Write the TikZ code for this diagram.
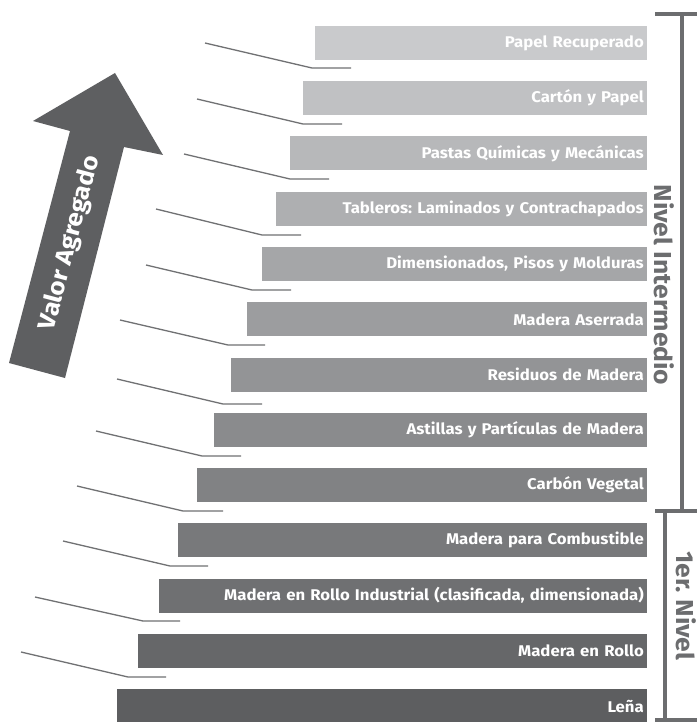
\documentclass[tikz,border=0pt]{standalone}
\usepackage{fontspec}
\setmainfont{Fira Sans}[FakeStretch=1.08]
\frenchspacing
\begin{document}
\begin{tikzpicture}[x=1pt,y=-1pt,
  bar/.style={draw=none, rectangle, minimum height=34pt, inner xsep=3pt, inner ysep=0pt,
    anchor=east, align=right, text=white, font=\bfseries\fontsize{15.5}{16}\selectfont},
  lead/.style={draw=lineg, line width=1.3pt},
  brk/.style={draw=brkg, line width=4pt},
  nivel/.style={text=brkg, font=\bfseries\fontsize{24.5}{26}\selectfont, inner sep=0pt}]
\definecolor{lineg}{RGB}{112,113,115}
\definecolor{brkg}{RGB}{108,109,111}
\definecolor{arrg}{RGB}{94,95,97}
\useasboundingbox (0,0) rectangle (697,722);
\fill[white] (0,0) rectangle (697,722);
% bars
\foreach \i/\l/\t in {0/315/Papel Recuperado,1/303/Cartón y Papel,2/290/Pastas Químicas y Mecánicas,
  3/276/Tableros: Laminados y Contrachapados,4/262/{Dimensionados, Pisos y Molduras},
  5/247/Madera Aserrada,6/231/Residuos de Madera,7/214/Astillas y Partículas de Madera,
  8/197/Carbón Vegetal,9/178/Madera para Combustible,
  10/159/{Madera en Rollo Industrial (clasificada, dimensionada)},11/138/Madera en Rollo,12/117/Leña}{
  \pgfmathtruncatemacro{\cr}{201-9*\i}
  \pgfmathtruncatemacro{\cg}{202-9*\i}
  \pgfmathtruncatemacro{\cb}{204-9*\i}
  \definecolor{barc}{RGB}{\cr,\cg,\cb}
  \pgfmathsetmacro{\w}{647-\l}
  \pgfmathsetmacro{\yc}{43+55.25*\i}
  \node[bar, fill=barc, minimum width=\w pt, text width=\w pt-6pt] (b\i) at (647,\yc) {\t};
}
% leader lines
\foreach \n/\ax/\ay/\bx/\by/\cx in {1/205/43/312/68/351, 2/197/99/303/124/342, 3/184/154/290/179/329,
  4/156/209/262/235/301, 5/146/265/252/290/291, 6/120/320/228/345/265, 7/117/379/223/404/262,
  8/96/431/202/456/241, 9/77/486/183/511/223, 10/63/541/170/566/208, 11/35/597/143/621/180,
  12/21/652/128/677/166}{
  \coordinate (la\n) at (\ax,\ay);
  \coordinate (lb\n) at (\bx,\by);
  \coordinate (lc\n) at (\cx,\by);
  \draw[lead] (la\n) -- (lb\n) -- (lc\n);
}
% arrow
\fill[arrg] (115,73) -- (163,155) -- (124,147) -- (65,378) -- (9,363) -- (70,131) -- (33,121) -- cycle;
\node[text=white, font=\bfseries\fontsize{24}{26}\selectfont, rotate=75.3, inner sep=0pt] (va) at (70,243) {Valor Agregado};
% brackets
\draw[brk] (655,14) -- (697,14);
\draw[brk] (682,14) -- (682,511);
\draw[brk] (655,511) -- (697,511);
\draw[brk] (665,511) -- (665,720);
\draw[brk] (655,720) -- (697,720);
\node[nivel, rotate=-90] (ni) at (664,285) {Nivel Intermedio};
\node[nivel, rotate=-90] (pn) at (686,606) {1er. Nivel};
\end{tikzpicture}
\end{document}
